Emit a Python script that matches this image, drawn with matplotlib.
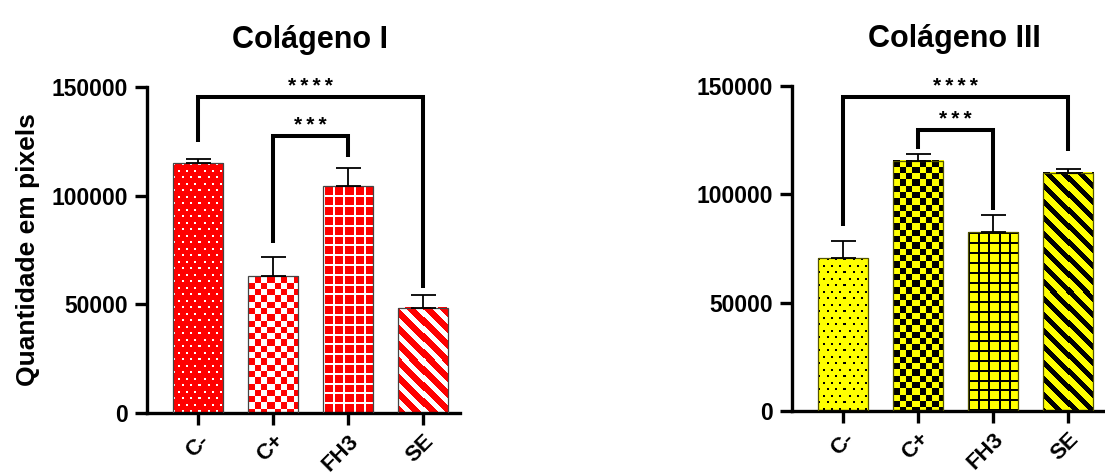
import numpy as np
import matplotlib
matplotlib.use('Agg')
import matplotlib.pyplot as plt
from matplotlib.colors import ListedColormap

plt.rcParams['font.family'] = ['Liberation Sans', 'DejaVu Sans']
plt.rcParams['font.weight'] = 'bold'

# dados
grupos = ['C-', 'C+', 'FH3', 'SE']
titulos = ['Colágeno I', 'Colágeno III']
media_col1 = [115000, 63000, 104500, 48500]
erro_col1 = [2000, 9000, 8000, 6000]
media_col3 = [70500, 115500, 82500, 110000]
erro_col3 = [8000, 3000, 8000, 1500]
y_ticks = [0, 50000, 100000, 150000]

# comparações: (grupo a, grupo b, altura, perna a, perna b, texto)
comp_col1 = [(0, 3, 145500, 124800, 57600, '****'),
             (1, 2, 127500, 78000, 117700, '***')]
comp_col3 = [(0, 3, 144800, 85500, 120100, '****'),
             (1, 2, 129700, 120800, 92700, '***')]

texturas = ['dots', 'checker', 'grid', 'stripes']


def textura(tipo, h, w, listra):
    # padrão em pixels da barra (0 = fundo, 1 = frente)
    i, j = np.mgrid[0:h, 0:w].astype(float)
    if tipo == 'dots':
        r = np.floor(i / 6.5)
        m = ((i % 6.5) < 2) & (((j + 4.15 * (r % 2)) % 8.3) < 2)
    elif tipo == 'checker':
        m = ((np.floor(i / 6.3) + np.floor(j / 6.3)) % 2) == 0
    elif tipo == 'grid':
        m = ((i % 9.8) < 2.0) | ((j % 9.8) < 2.0)
    else:
        m = ((j - i) % 16) < listra
    return m.astype(int)


def painel(ax, medias, erros, comps, fundo, frente, borda, titulo, listra):
    x = np.arange(len(grupos))
    ax.set_xlim(-0.68, 3.49)
    ax.set_ylim(0, 150000)
    barras = ax.bar(x, medias, width=0.667, color=fundo, linewidth=0, zorder=2)
    cmap = ListedColormap([fundo, frente])
    for b, tipo in zip(barras, texturas):
        bb = b.get_window_extent()
        w = int(round(bb.width))
        h = int(round(bb.height))
        ext = (b.get_x(), b.get_x() + b.get_width(), 0, b.get_height())
        ax.imshow(textura(tipo, h, w, listra), cmap=cmap, vmin=0, vmax=1, extent=ext,
                  origin='upper', interpolation='nearest', aspect='auto',
                  clip_path=b, zorder=2.5)
    ax.bar(x, medias, width=0.667, fill=False, edgecolor=borda,
           linewidth=0.9, zorder=3)
    ax.errorbar(x, medias, yerr=[np.zeros(len(erros)), erros], fmt='none',
                ecolor='black', elinewidth=1.3, capsize=9, capthick=1.3, zorder=4)
    ax.set_xlim(-0.68, 3.49)
    ax.set_ylim(0, 150000)

    for a, b, yy, ya, yb, txt in comps:
        ax.plot([a, a, b, b], [ya, yy, yy, yb], color='black', lw=2.9,
                solid_joinstyle='miter', solid_capstyle='butt', clip_on=False, zorder=5)
        ax.annotate(txt.replace('*', '*\u2009').strip(), ((a + b) / 2, yy),
                    xytext=(0, 3.5), textcoords='offset points', ha='center',
                    va='baseline', fontsize=15, fontweight='bold',
                    annotation_clip=False)

    for s in ['top', 'right']:
        ax.spines[s].set_visible(False)
    for s in ['left', 'bottom']:
        ax.spines[s].set_linewidth(2.4)
    ax.set_yticks(y_ticks)
    ax.set_yticklabels([str(v) for v in y_ticks], fontsize=16.5, fontweight='bold')
    ax.set_xticks(x)
    ax.set_xticklabels(grupos, fontsize=16, fontweight='bold', rotation=45,
                       ha='right', va='top', rotation_mode='anchor')
    ax.tick_params(axis='both', length=8.6, width=2.4, direction='out', pad=5)
    ax.tick_params(axis='x', pad=4)
    ax.set_title(titulo, fontsize=22, fontweight='bold', pad=28, x=0.52)


fig = plt.figure(figsize=(11.05, 4.75), dpi=100)
ax1 = fig.add_axes([147 / 1105, 62 / 475, 313 / 1105, 326 / 475])
ax2 = fig.add_axes([792 / 1105, 64 / 475, 313 / 1105, 325 / 475])

painel(ax1, media_col1, erro_col1, comp_col1, '#ff0000', '#ffffff', '#444444', titulos[0], 7)
painel(ax2, media_col3, erro_col3, comp_col3, '#ffff00', '#000000', '#555500', titulos[1], 6.5)

ax1.set_ylabel('Quantidade em pixels', fontsize=19, fontweight='bold', labelpad=8)

fig.savefig('out.png', dpi=100)
